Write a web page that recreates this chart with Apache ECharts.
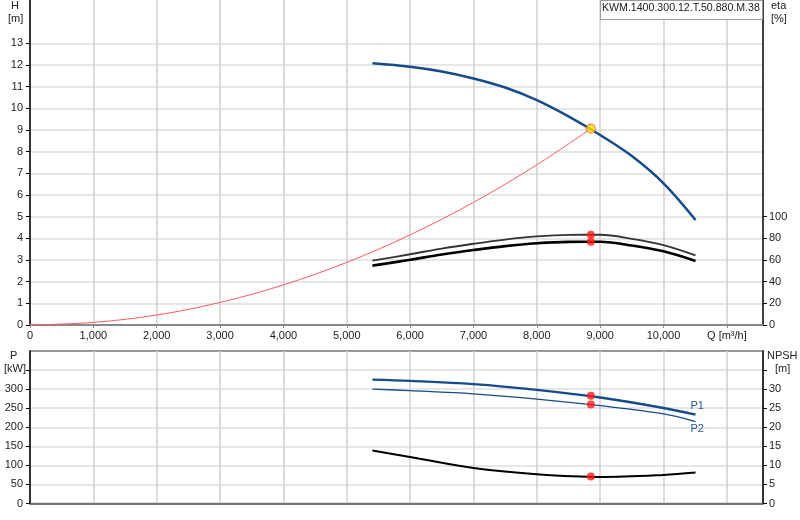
<!DOCTYPE html>
<html><head><meta charset="utf-8">
<script src="https://cdn.jsdelivr.net/npm/echarts@6/dist/echarts.min.js"></script>
<style>html,body{margin:0;padding:0;background:#fff}#c{width:800px;height:520px}</style>
</head><body><div id="c"></div>
<script>
// ---- data ----
const modelName = 'KWM.1400.300.12.T.50.880.M.38';
const qHead = [5405, 6000, 6500, 7000, 7500, 8000, 8500, 9000, 9500, 10000, 10505];
const head  = [12.08, 11.92, 11.70, 11.38, 10.96, 10.38, 9.63, 8.77, 7.80, 6.54, 4.85];
const qSys  = [0, 1000, 2000, 3000, 4000, 5000, 6000, 7000, 8000, 8853];
const hSys  = [0, 0.12, 0.46, 1.04, 1.85, 2.89, 4.16, 5.66, 7.39, 9.06];
const qEta  = [5405, 6000, 6500, 7000, 7500, 8000, 8500, 9000, 9500, 10000, 10505];
const etaHyd = [59.4, 65.3, 70.6, 75.0, 78.9, 81.8, 83.2, 83.3, 79.6, 73.8, 64.3];
const etaTot = [54.8, 60.2, 65.1, 69.2, 72.8, 75.4, 76.7, 76.8, 73.4, 68.0, 59.1];
const qPow  = [5405, 6000, 7000, 8000, 9000, 10000, 10505];
const p1    = [325, 321.6, 313, 298, 278, 250.5, 233];
const p2    = [300, 296, 287.8, 274, 256.5, 235, 215];
const npsh  = [13.9, 12.2, 9.3, 7.7, 6.98, 7.5, 8.1];
const opQ = 8853, opH = 9.06, opEtaHyd = 83.4, opEtaTot = 76.9, opP1 = 282.5, opP2 = 260, opNpsh = 7.08;
const qTicks = [0,1000,2000,3000,4000,5000,6000,7000,8000,9000,10000,11000];
const hTicks = [0,1,2,3,4,5,6,7,8,9,10,11,12,13];
const etaTicks = [0,20,40,60,80,100];
const pTicks = [0,50,100,150,200,250,300];
const npshTicks = [0,5,10,15,20,25,30];

const zip = (a, b) => a.map((v, i) => [v, b[i]]);
const FONT = 'Liberation Sans';
const lab = {color:'#222', fontSize:11, fontFamily:FONT};
const blue = '#154b8a';
const curve = {type:'line', smooth:0.35, symbol:'none'};

const chart = echarts.init(document.getElementById('c'), null, {renderer:'canvas'});
const xBase = {
  type:'value', min:0, max:11570, interval:1000,
  splitLine:{show:true, lineStyle:{color:'#cfcfcf', width:1.5}},
};
chart.setOption({
  animation:false,
  backgroundColor:'#fff',
  grid:[
    {left:30, right:37, top:0, height:325, outerBoundsMode:'none'},
    {left:30, right:37, top:351, height:152.5, outerBoundsMode:'none', show:true, borderColor:'#777', borderWidth:1.5}
  ],
  xAxis:[
    Object.assign({}, xBase, {gridIndex:0,
      axisLine:{lineStyle:{color:'#888', width:2}},
      axisTick:{show:true, length:3, lineStyle:{color:'#888'}, customValues:qTicks},
      axisLabel:Object.assign({}, lab, {margin:5, customValues:qTicks,
        formatter:v => v === 11000 ? 'Q [m³/h]' : v.toLocaleString('en-US')})}),
    Object.assign({}, xBase, {gridIndex:1,
      axisLine:{lineStyle:{color:'#555', width:1.5}},
      axisTick:{show:false}, axisLabel:{show:false}})
  ],
  yAxis:[
    {type:'value', gridIndex:0, position:'left', min:0, max:15, interval:1,
      axisLine:{show:true, lineStyle:{color:'#000', width:1.5}},
      axisTick:{show:true, length:4, lineStyle:{color:'#000'}, customValues:hTicks},
      axisLabel:Object.assign({}, lab, {margin:7, customValues:hTicks}),
      splitLine:{show:true, lineStyle:{color:'#dedede', width:1.5}}},
    {type:'value', gridIndex:0, position:'right', min:0, max:300, interval:20,
      axisLine:{show:true, lineStyle:{color:'#000', width:1.5}},
      axisTick:{show:true, length:4, lineStyle:{color:'#000'}, customValues:etaTicks},
      axisLabel:Object.assign({}, lab, {margin:6, customValues:etaTicks}),
      splitLine:{show:false}},
    {type:'value', gridIndex:1, position:'left', min:0, max:400, interval:50,
      axisLine:{show:true, lineStyle:{color:'#000', width:1.5}},
      axisTick:{show:true, length:4, lineStyle:{color:'#000'}, customValues:[0,50,100,150,200,250,300,350]},
      axisLabel:Object.assign({}, lab, {margin:7, customValues:pTicks}),
      splitLine:{show:true, lineStyle:{color:'#dedede', width:1.5}}},
    {type:'value', gridIndex:1, position:'right', min:0, max:40, interval:5,
      axisLine:{show:true, lineStyle:{color:'#000', width:1.5}},
      axisTick:{show:true, length:4, lineStyle:{color:'#000'}, customValues:[0,5,10,15,20,25,30,35]},
      axisLabel:Object.assign({}, lab, {margin:6, customValues:npshTicks}),
      splitLine:{show:false}}
  ],
  series:[
    Object.assign({}, curve, {xAxisIndex:0, yAxisIndex:0, data:zip(qSys, hSys),
      lineStyle:{color:'#ff5a5a', width:1}, z:3}),
    Object.assign({}, curve, {xAxisIndex:0, yAxisIndex:0, data:zip(qHead, head),
      lineStyle:{color:blue, width:2.5}, z:4}),
    Object.assign({}, curve, {xAxisIndex:0, yAxisIndex:1, data:zip(qEta, etaHyd),
      lineStyle:{color:'#333', width:1.8}, z:4}),
    Object.assign({}, curve, {xAxisIndex:0, yAxisIndex:1, data:zip(qEta, etaTot),
      lineStyle:{color:'#000', width:2.6}, z:4}),
    {type:'scatter', xAxisIndex:0, yAxisIndex:0, data:[[opQ, opH]], symbolSize:9,
      itemStyle:{color:'#ffe000', borderColor:'#f06a4a', borderWidth:1.2}, z:6},
    {type:'scatter', xAxisIndex:0, yAxisIndex:1, data:[[opQ, opEtaHyd],[opQ, opEtaTot]], symbolSize:8,
      itemStyle:{color:'#ff1a1a'}, z:6},
    Object.assign({}, curve, {xAxisIndex:1, yAxisIndex:2, data:zip(qPow, p1),
      lineStyle:{color:blue, width:2.4}, z:4,
      endLabel:{show:true, formatter:'P1', color:'#1d5aa0', fontSize:11, fontFamily:FONT, offset:[-13,-9]}}),
    Object.assign({}, curve, {xAxisIndex:1, yAxisIndex:2, data:zip(qPow, p2),
      lineStyle:{color:blue, width:1.3}, z:4,
      endLabel:{show:true, formatter:'P2', color:'#1d5aa0', fontSize:11, fontFamily:FONT, offset:[-13,7]}}),
    Object.assign({}, curve, {xAxisIndex:1, yAxisIndex:3, data:zip(qPow, npsh),
      lineStyle:{color:'#000', width:2}, z:4}),
    {type:'scatter', xAxisIndex:1, yAxisIndex:2, data:[[opQ, opP1],[opQ, opP2]], symbolSize:8,
      itemStyle:{color:'#ff1a1a'}, z:6},
    {type:'scatter', xAxisIndex:1, yAxisIndex:3, data:[[opQ, opNpsh]], symbolSize:8,
      itemStyle:{color:'#ff1a1a'}, z:6}
  ],
  graphic:[
    {type:'text', left:11, top:0, style:{text:'H', font:'11px "Liberation Sans"', fill:'#222'}},
    {type:'text', left:8, top:13, style:{text:'[m]', font:'11px "Liberation Sans"', fill:'#222'}},
    {type:'text', left:771, top:0, style:{text:'eta', font:'11px "Liberation Sans"', fill:'#222'}},
    {type:'text', left:771, top:13, style:{text:'[%]', font:'11px "Liberation Sans"', fill:'#222'}},
    {type:'text', left:10, top:350, style:{text:'P', font:'11px "Liberation Sans"', fill:'#222'}},
    {type:'text', left:4, top:363, style:{text:'[kW]', font:'11px "Liberation Sans"', fill:'#222'}},
    {type:'text', left:767, top:350, style:{text:'NPSH', font:'11px "Liberation Sans"', fill:'#222'}},
    {type:'text', left:775, top:363, style:{text:'[m]', font:'11px "Liberation Sans"', fill:'#222'}},
    {type:'rect', left:600, top:0, shape:{width:162, height:19}, style:{fill:'#fff', stroke:'#999', lineWidth:1}, z:10},
    {type:'text', left:602, top:3, style:{text:modelName, font:'10.6px "Liberation Sans"', fill:'#222'}, z:11}
  ]
});
</script>
</body></html>
